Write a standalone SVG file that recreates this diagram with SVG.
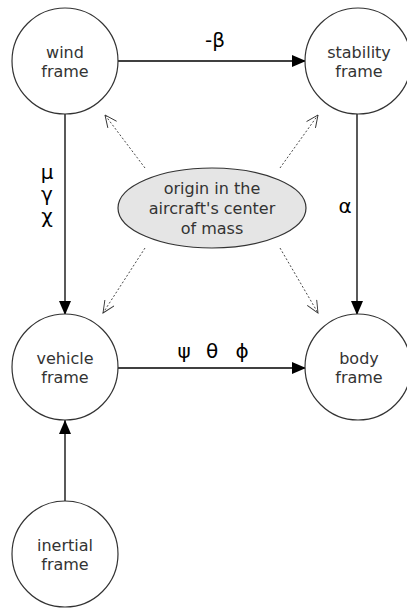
<svg xmlns="http://www.w3.org/2000/svg" width="407" height="608" viewBox="0 0 407 608">
<style>
.node{fill:#fff;stroke:#333;stroke-width:1.2}
.lbl{font-family:"DejaVu Sans",sans-serif;font-size:16px;fill:#333;text-anchor:middle}
.glbl{font-family:"DejaVu Sans",sans-serif;font-size:20px;fill:#000;text-anchor:middle}
.edge{stroke:#000;stroke-width:1.3;fill:none}
.dot{stroke:#333;stroke-width:0.9;fill:none;stroke-dasharray:2,2}
</style>
<defs>
<marker id="arr" markerWidth="14" markerHeight="12" refX="14" refY="6" orient="auto" markerUnits="userSpaceOnUse">
<path d="M0,0 L14,6 L0,12 Z" fill="#000"/>
</marker>
<marker id="open" markerWidth="14" markerHeight="12" refX="13" refY="6" orient="auto" markerUnits="userSpaceOnUse">
<path d="M1,0.5 L13,6 L1,11.5" fill="none" stroke="#333" stroke-width="0.9"/>
</marker>
</defs>
<g id="connectors">
<line class="edge" x1="118" y1="61" x2="306" y2="61" marker-end="url(#arr)"/>
<line class="edge" x1="65" y1="113" x2="65" y2="315" marker-end="url(#arr)"/>
<line class="edge" x1="357" y1="113" x2="357" y2="315" marker-end="url(#arr)"/>
<line class="edge" x1="118" y1="368" x2="306" y2="368" marker-end="url(#arr)"/>
<line class="edge" x1="65" y1="502" x2="65" y2="420" marker-end="url(#arr)"/>
<line class="dot" x1="145" y1="168" x2="105" y2="115" marker-end="url(#open)"/>
<line class="dot" x1="280" y1="168" x2="318" y2="115" marker-end="url(#open)"/>
<line class="dot" x1="145" y1="248" x2="103" y2="313" marker-end="url(#open)"/>
<line class="dot" x1="280" y1="248" x2="318" y2="313" marker-end="url(#open)"/>
<text class="glbl" x="215" y="47">-β</text>
<text class="glbl" x="47" y="179">μ</text>
<text class="glbl" x="47" y="201">γ</text>
<text class="glbl" x="47" y="223">χ</text>
<text class="glbl" x="345" y="213">α</text>
<text class="glbl" x="184" y="358">ψ</text>
<text class="glbl" x="212" y="358">θ</text>
<text class="glbl" x="242" y="358">ϕ</text>
</g>
<g id="wind">
<circle class="node" cx="65" cy="61" r="53"/>
<text class="lbl" x="65" y="58">wind</text>
<text class="lbl" x="65" y="77">frame</text>
</g>
<g id="stability">
<circle class="node" cx="358" cy="61" r="53"/>
<text class="lbl" x="359" y="58">stability</text>
<text class="lbl" x="359" y="77">frame</text>
</g>
<g id="vehicle">
<circle class="node" cx="65" cy="367" r="53"/>
<text class="lbl" x="65" y="364">vehicle</text>
<text class="lbl" x="65" y="383">frame</text>
</g>
<g id="body">
<circle class="node" cx="358" cy="367" r="53"/>
<text class="lbl" x="359" y="364">body</text>
<text class="lbl" x="359" y="383">frame</text>
</g>
<g id="inertial">
<circle class="node" cx="65" cy="554" r="53"/>
<text class="lbl" x="65" y="551">inertial</text>
<text class="lbl" x="65" y="570">frame</text>
</g>
<g id="origin">
<ellipse cx="212" cy="208" rx="94" ry="40" fill="#e5e5e5" stroke="#333" stroke-width="1.2"/>
<text class="lbl" x="212" y="194">origin in the</text>
<text class="lbl" x="212" y="214">aircraft's center</text>
<text class="lbl" x="212" y="234">of mass</text>
</g>
</svg>
